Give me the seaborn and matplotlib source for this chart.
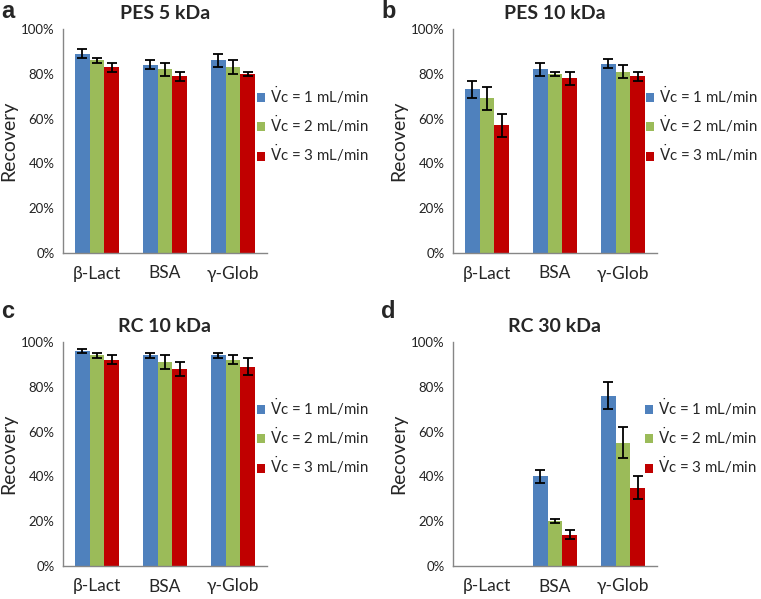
import pandas as pd
import matplotlib.pyplot as plt
import seaborn as sns
import numpy as np
from matplotlib.patches import Patch
from matplotlib.ticker import PercentFormatter

sns.set_style("white")
plt.rcParams['font.family'] = ['Lato', 'DejaVu Sans']

proteins = ['β-Lact', 'BSA', 'γ-Glob']
flows = ['$\\dot{\\mathrm{V}}$c = 1 mL/min', '$\\dot{\\mathrm{V}}$c = 2 mL/min', '$\\dot{\\mathrm{V}}$c = 3 mL/min']
colors = ['#4F81BD', '#9BBB59', '#C00000']

titles = ['PES 5 kDa', 'PES 10 kDa', 'RC 10 kDa', 'RC 30 kDa']
letters = ['a', 'b', 'c', 'd']

# recovery (%) per flow rate, ordered β-Lact, BSA, γ-Glob
pes5_mean = [[89, 84, 86], [86, 82, 83], [83, 79, 80]]
pes5_err = [[2, 2, 3], [1, 3, 3], [2, 2, 1]]
pes10_mean = [[73, 82, 84.5], [69, 80, 81], [57, 78, 79]]
pes10_err = [[4, 3, 2], [5, 1, 3], [5, 3, 2]]
rc10_mean = [[96, 94, 94], [94, 91, 92], [92, 88, 89]]
rc10_err = [[1, 1, 1], [1, 3, 2], [2, 3, 3.8]]
rc30_mean = [[0, 40, 76], [0, 20, 55], [0, 14, 35]]
rc30_err = [[0, 3, 6], [0, 1, 7], [0, 2, 5]]

means = [pes5_mean, pes10_mean, rc10_mean, rc30_mean]
errs = [pes5_err, pes10_err, rc10_err, rc30_err]

W, H = 761, 599
fig = plt.figure(figsize=(W / 100, H / 100), dpi=100)

# axes boxes in pixels: left, top, right, bottom
boxes = [(63, 29, 267, 253), (453, 29, 657, 253), (63, 342, 267, 566), (453, 342, 657, 566)]
legend_pos = [(257, 124), (646, 124), (257, 436), (645, 436)]
letter_pos = [(1, 18), (381, 18), (1, 318), (381, 318)]

for i in range(4):
    l, t, r, b = boxes[i]
    ax = fig.add_axes([l / W, 1 - b / H, (r - l) / W, (b - t) / H])

    rows = []
    for j, fl in enumerate(flows):
        for k, p in enumerate(proteins):
            rows.append({'protein': p, 'flow': fl, 'recovery': means[i][j][k] / 100})
    df = pd.DataFrame(rows)

    sns.barplot(data=df, x='protein', y='recovery', hue='flow', palette=colors,
                width=0.66, errorbar=None, saturation=1, linewidth=0, ax=ax)

    bar_conts = list(ax.containers)
    for j, cont in enumerate(bar_conts):
        xs = np.array([bar.get_x() + bar.get_width() / 2 for bar in cont])
        ys = np.array(means[i][j]) / 100
        es = np.array(errs[i][j]) / 100
        keep = ys > 0
        ax.errorbar(xs[keep], ys[keep], yerr=es[keep], fmt='none',
                    ecolor='black', elinewidth=1.3, capsize=3.5, capthick=1.3)

    ax.set_xlim(-0.5, 2.5)
    ax.set_ylim(0, 1)
    ax.set_yticks(np.arange(0, 1.01, 0.2))
    ax.yaxis.set_major_formatter(PercentFormatter(1.0, decimals=0))
    ax.set_xticks([-0.5, 0.5, 1.5, 2.5], minor=True)
    ax.tick_params(axis='x', which='major', length=0, pad=9, labelsize=12.5)
    ax.tick_params(axis='x', which='minor', length=4, color='#868686', width=1)
    ax.tick_params(axis='y', length=4, color='#868686', width=1, labelsize=9.5,
                   labelcolor='#222222', pad=2)
    ax.tick_params(axis='both', direction='out')
    for side in ['top', 'right']:
        ax.spines[side].set_visible(False)
    for side in ['left', 'bottom']:
        ax.spines[side].set_color('#868686')
        ax.spines[side].set_linewidth(1)
    ax.set_xlabel('')
    ax.set_ylabel('Recovery', fontsize=14, labelpad=3)
    ax.set_title(titles[i], fontsize=14, fontweight='bold', pad=7)
    ax.legend_.remove()

    handles = [Patch(facecolor=c, edgecolor='none') for c in colors]
    lx, ly = legend_pos[i]
    fig.legend(handles, flows, loc='center left', bbox_to_anchor=(lx / W, 1 - ly / H),
               frameon=False, fontsize=10.8, handlelength=0.55, handleheight=0.55,
               handletextpad=0.3, labelspacing=0.5, borderpad=0, borderaxespad=0)

    px, py = letter_pos[i]
    fig.text(px / W, 1 - py / H, letters[i], fontsize=17, fontweight='bold',
             family='Liberation Sans', va='baseline', ha='left')

plt.savefig('out.png', dpi=100)
plt.close()
